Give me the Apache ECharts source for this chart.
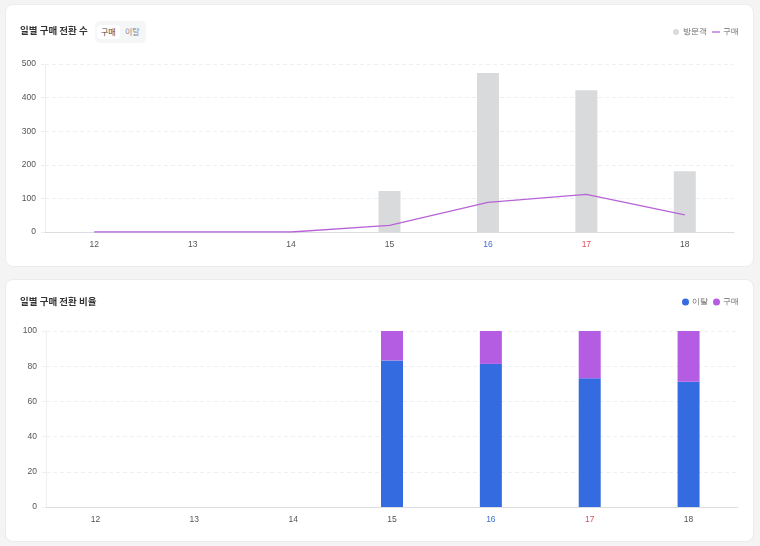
<!DOCTYPE html>
<html><head><meta charset="utf-8">
<script src="https://cdn.jsdelivr.net/npm/echarts@6/dist/echarts.min.js"></script>
<style>
html,body{margin:0;padding:0;background:#f4f4f5;width:760px;height:546px;overflow:hidden;font-family:"Noto Sans CJK KR","Noto Sans",sans-serif;}
.card{position:absolute;left:5px;width:747px;height:261px;background:#fff;border:1px solid #ececee;border-radius:8px;}
#c1{top:4px;} #c2{top:279px;}
.chart{position:absolute;left:0;top:0;width:747px;height:261px;}
.toggle{position:absolute;left:89px;top:16px;width:51px;height:22px;background:#f5f6f8;border-radius:5px;font-size:8px;}
.toggle span{position:absolute;top:4px;height:14px;line-height:14px;padding:0 4px;border-radius:4px;}
.t1{left:2px;background:#fff;color:#444;} .t2{left:26px;color:#888;}
</style></head>
<body>
<div class="card" id="c1"><div class="chart" id="ch1"></div>
<div class="toggle"><span class="t1">구매</span><span class="t2">이탈</span></div></div>
<div class="card" id="c2"><div class="chart" id="ch2"></div></div>
<script>
const categories = ['12','13','14','15','16','17','18'];
const visitors = [0, 0, 0, 122, 473, 422, 181];
const purchases = [0, 0, 0, 20, 88, 112, 51];
const churnRate = [0, 0, 0, 83.3, 81.3, 73.1, 71.2];
const buyRate = [0, 0, 0, 16.7, 18.7, 26.9, 28.8];
const countTicks = [0, 100, 200, 300, 400, 500];
const rateTicks = [0, 20, 40, 60, 80, 100];

const labelColors = ['#555','#555','#555','#555','#3f6fd6','#e0505f','#555'];
function xAxis(){
  return {type:'category', data:categories,
    axisLine:{lineStyle:{color:'#dcdde0'}}, axisTick:{show:false},
    axisLabel:{fontSize:8.5, margin:8, color:(v,i)=>labelColors[categories.indexOf(v)] || '#555'}};
}
function yAxis(ticks){
  return {type:'value', min:ticks[0], max:ticks[ticks.length-1], interval:ticks[1]-ticks[0],
    axisLine:{show:true, lineStyle:{color:'#eeeff1'}},
    axisTick:{show:true, length:4, lineStyle:{color:'#eeeff1'}},
    axisLabel:{fontSize:8.5, color:'#555', margin:9},
    splitLine:{lineStyle:{color:'#eeeff1', type:[4,3]}}};
}
const titleStyle = {fontSize:9.5, fontWeight:600, color:'#333', fontFamily:'"Noto Sans CJK KR",sans-serif'};

const ch1 = echarts.init(document.getElementById('ch1'));
ch1.setOption({
  animation:false,
  title:{text:'일별 구매 전환 수', left:14, top:21, padding:0, textStyle:titleStyle},
  legend:{right:14, top:23, padding:0, itemWidth:8, itemHeight:6, itemGap:5, symbolKeepAspect:true,
    textStyle:{fontSize:7.5, color:'#666', padding:[0,0,0,-2]},
    data:[{name:'방문객', icon:'circle'}, {name:'구매', icon:'path://M0,0h10v1.6h-10z'}]},
  grid:{left:39, right:19, top:59, bottom:34},
  xAxis:xAxis(),
  yAxis:yAxis(countTicks),
  series:[
    {name:'방문객', type:'bar', data:visitors, barWidth:22, itemStyle:{color:'#d9dadc'}},
    {name:'구매', type:'line', data:purchases, symbol:'none', lineStyle:{color:'#b763d6', width:1.3}, itemStyle:{color:'#b763d6'}}
  ]
});

const ch2 = echarts.init(document.getElementById('ch2'));
ch2.setOption({
  animation:false,
  title:{text:'일별 구매 전환 비율', left:14, top:17, padding:0, textStyle:titleStyle},
  legend:{right:14, top:18, padding:0, itemWidth:7, itemHeight:7, itemGap:5, icon:'circle',
    textStyle:{fontSize:7.5, color:'#666', padding:[0,0,0,-2]},
    data:['이탈','구매']},
  grid:{left:40, right:15, top:51, bottom:34},
  xAxis:xAxis(),
  yAxis:yAxis(rateTicks),
  series:[
    {name:'이탈', type:'bar', stack:'r', data:churnRate, barWidth:22, itemStyle:{color:'#356be0'}},
    {name:'구매', type:'bar', stack:'r', data:buyRate, barWidth:22, itemStyle:{color:'#b45de2'}}
  ]
});
</script>
</body></html>
